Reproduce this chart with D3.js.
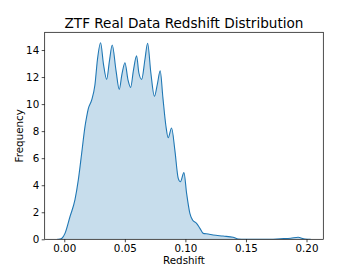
<!DOCTYPE html>
<html>
<head>
<meta charset="utf-8">
<script src="https://cdn.jsdelivr.net/npm/d3@7"></script>
<style>
  html, body { margin: 0; padding: 0; background: #fff; }
  svg { display: block; font-family: "DejaVu Sans", sans-serif; }
</style>
</head>
<body>
<svg id="chart" width="359" height="269"></svg>
<script>
// ---- data ----
const redshift = [-0.0057, -0.0035, -0.0019, 0.0006, 0.0047, 0.0088, 0.0116, 0.0144, 0.0171, 0.0185, 0.0198,
  0.0226, 0.0253, 0.0274, 0.0300, 0.0323, 0.0350, 0.0373, 0.0396, 0.0427, 0.0454, 0.0476, 0.0501,
  0.0526, 0.0548, 0.0571, 0.0597, 0.0616, 0.0639, 0.0666, 0.0688, 0.0715, 0.0744, 0.0769, 0.0792,
  0.0814, 0.0839, 0.0858, 0.0886, 0.0913, 0.0941, 0.0959, 0.0988, 0.1010, 0.1037, 0.1059, 0.1092,
  0.1120, 0.1147, 0.1188, 0.1229, 0.1312, 0.1394, 0.1436, 0.1490, 0.1700, 0.1785, 0.1870, 0.1930,
  0.1986, 0.2034];
const density = [0.00, 0.02, 0.08, 0.44, 1.67, 2.91, 4.39, 6.38, 8.33, 9.07, 9.65,
  10.30, 11.41, 13.30, 14.54, 13.00, 11.83, 13.20, 14.37, 12.50, 11.09, 12.20, 13.06,
  11.80, 11.24, 12.50, 13.58, 12.30, 11.83, 13.30, 14.50, 12.30, 10.58, 11.50, 12.47,
  10.50, 8.40, 7.51, 8.23, 6.60, 4.51, 4.26, 4.93, 3.40, 1.92, 1.43, 1.18,
  0.81, 0.44, 0.39, 0.32, 0.24, 0.15, 0.02, 0.00, 0.00, 0.04, 0.08, 0.15,
  0.02, 0.00];
const xTicks = [0.00, 0.05, 0.10, 0.15, 0.20];
const yTicks = [0, 2, 4, 6, 8, 10, 12, 14];
const titleText = "ZTF Real Data Redshift Distribution";
const xLabel = "Redshift";
const yLabel = "Frequency";

// ---- layout ----
const margin = { left: 44.7, right: 359 - 323.3, top: 32.3, bottom: 269 - 239.3 };
const W = 359, H = 269;
const iw = W - margin.left - margin.right;
const ih = H - margin.top - margin.bottom;
const color = "#1f77b4";

const xMin = d3.min(redshift), xMax = d3.max(redshift);
const pad = (xMax - xMin) * 0.05;
const x = d3.scaleLinear().domain([xMin - pad, xMax + pad]).range([0, iw]);
const y = d3.scaleLinear().domain([0, d3.max(density) * 1.053]).range([ih, 0]);

const svg = d3.select("#chart");
const g = svg.append("g").attr("transform", `translate(${margin.left},${margin.top})`);

svg.append("defs").append("clipPath").attr("id", "clip")
  .append("rect").attr("width", iw).attr("height", ih);

const pts = redshift.map((r, i) => [r, density[i]]);
const area = d3.area().x(d => x(d[0])).y0(y(0)).y1(d => y(d[1])).curve(d3.curveMonotoneX);
const line = d3.line().x(d => x(d[0])).y(d => y(d[1])).curve(d3.curveMonotoneX);

const plot = g.append("g").attr("clip-path", "url(#clip)");
plot.append("path").datum(pts).attr("d", area)
  .attr("fill", color).attr("fill-opacity", 0.25).attr("stroke", "none");
plot.append("path").datum(pts).attr("d", line)
  .attr("fill", "none").attr("stroke", color).attr("stroke-width", 1.1)
  .attr("stroke-linejoin", "round");

// axes
const xAxis = d3.axisBottom(x).tickValues(xTicks).tickFormat(d3.format(".2f")).tickSize(3).tickPadding(2);
const yAxis = d3.axisLeft(y).tickValues(yTicks).tickFormat(d3.format("d")).tickSize(3).tickPadding(2.5);

const gx = g.append("g").attr("transform", `translate(0,${ih})`).call(xAxis);
const gy = g.append("g").call(yAxis);
[gx, gy].forEach(a => {
  a.select(".domain").remove();
  a.selectAll(".tick line").attr("stroke", "#000").attr("stroke-width", 0.7);
  a.selectAll(".tick text").attr("fill", "#000").style("font-size", "10.3px")
    .style("font-family", "DejaVu Sans, sans-serif");
});

// spines
g.append("rect").attr("width", iw).attr("height", ih)
  .attr("fill", "none").attr("stroke", "#000").attr("stroke-width", 0.7);

// title and labels
svg.append("text").attr("x", margin.left + iw / 2).attr("y", 27.5)
  .attr("text-anchor", "middle").style("font-size", "13.6px").attr("fill", "#000")
  .text(titleText);
svg.append("text").attr("x", margin.left + iw / 2).attr("y", 263.5)
  .attr("text-anchor", "middle").style("font-size", "10.3px").attr("fill", "#000")
  .text(xLabel);
svg.append("text").attr("transform", `translate(22.5,${margin.top + ih / 2}) rotate(-90)`)
  .attr("text-anchor", "middle").style("font-size", "10.3px").attr("fill", "#000")
  .text(yLabel);
</script>
</body>
</html>
